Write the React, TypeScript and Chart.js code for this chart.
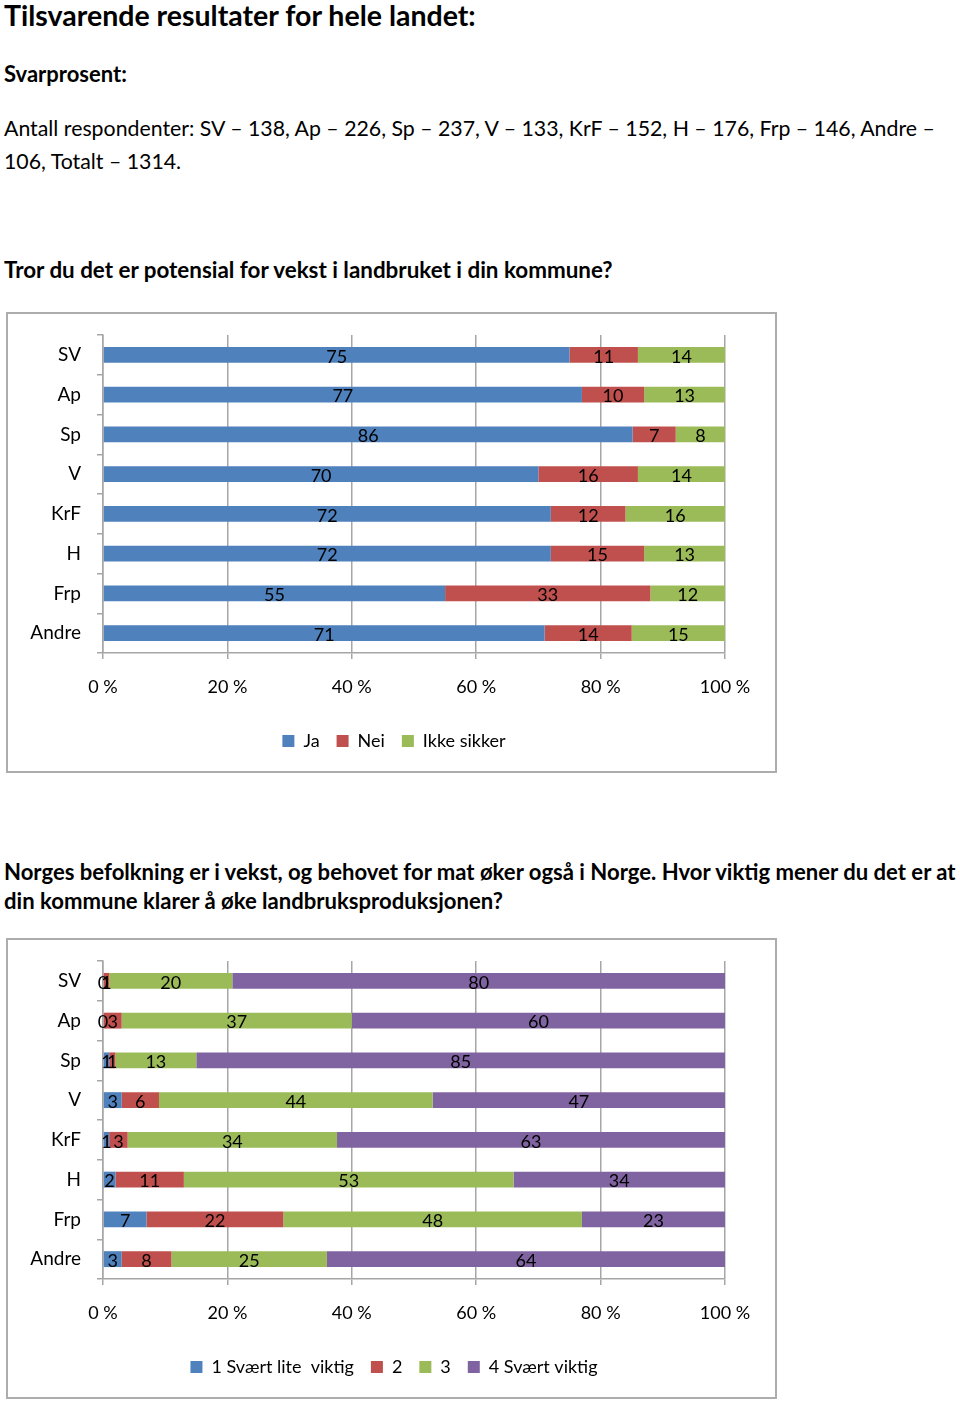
import React, { useEffect, useRef } from "react";
import { Chart, registerables } from "chart.js";

Chart.register(...registerables);

// ---------- data ----------
const parties = ["SV", "Ap", "Sp", "V", "KrF", "H", "Frp", "Andre"];

const q1SeriesNames = ["Ja", "Nei", "Ikke sikker"];
const q1Ja = [75, 77, 86, 70, 72, 72, 55, 71];
const q1Nei = [11, 10, 7, 16, 12, 15, 33, 14];
const q1IkkeSikker = [14, 13, 8, 14, 16, 13, 12, 15];

const q2SeriesNames = ["1 Svært lite  viktig", "2", "3", "4 Svært viktig"];
const q2Lite = [0, 0, 1, 3, 1, 2, 7, 3];
const q2To = [1, 3, 1, 6, 3, 11, 22, 8];
const q2Tre = [20, 37, 13, 44, 34, 53, 48, 25];
const q2Viktig = [80, 60, 85, 47, 63, 34, 23, 64];

const xTickValues = [0, 20, 40, 60, 80, 100];
const seriesColors = ["#4F81BD", "#C0504D", "#9BBB59", "#8064A2"];

const FONT = "Lato, 'Noto Sans', sans-serif";
const GRID = "#A6A6A6";

// draws the value of every segment centred in it
const valueLabels = {
  id: "valueLabels",
  afterDatasetsDraw(chart: any) {
    const ctx = chart.ctx;
    ctx.save();
    ctx.font = `18px ${FONT}`;
    ctx.fillStyle = "#000";
    ctx.textAlign = "center";
    ctx.textBaseline = "middle";
    chart.data.datasets.forEach((ds: any, i: number) => {
      const meta = chart.getDatasetMeta(i);
      meta.data.forEach((el: any, j: number) => {
        const p = el.getProps(["x", "base", "y"], true);
        ctx.fillText(String(ds.rawValues[j]), (p.x + p.base) / 2, p.y + 2);
      });
    });
    ctx.restore();
  },
};

// centre the legend a little further right, like the original
const legendShift = {
  id: "legendShift",
  afterLayout(chart: any) {
    if (chart.legend) {
      chart.legend.left += 55;
    }
  },
};

function buildDatasets(names: string[], series: number[][]) {
  const totals = parties.map((_, j) => series.reduce((s, arr) => s + arr[j], 0));
  return series.map((arr, i) => ({
    label: names[i],
    data: arr.map((v, j) => (v / totals[j]) * 100),
    rawValues: arr,
    backgroundColor: seriesColors[i],
    borderWidth: 0,
    barPercentage: 0.4,
    categoryPercentage: 1,
  }));
}

function StackedChart({ names, series }: { names: string[]; series: number[][] }) {
  const ref = useRef<HTMLCanvasElement>(null);
  useEffect(() => {
    if (!ref.current) return;
    const chart = new Chart(ref.current, {
      type: "bar",
      data: { labels: parties, datasets: buildDatasets(names, series) as any },
      options: {
        indexAxis: "y",
        responsive: false,
        animation: false,
        layout: { padding: { top: 21, right: 50, left: 0, bottom: 11 } },
        scales: {
          x: {
            stacked: true,
            min: 0,
            max: 100,
            afterBuildTicks: (s: any) => {
              s.ticks = xTickValues.map((v) => ({ value: v }));
            },
            ticks: {
              callback: (v: any) => `${v} %`,
              font: { size: 18, family: FONT },
              color: "#000",
              padding: 17,
              maxRotation: 0,
            },
            grid: { color: GRID, lineWidth: 1.5, tickLength: 6 },
            border: { color: GRID, width: 1.5 },
            afterFit: (s: any) => {
              s.height = 62;
            },
          },
          y: {
            stacked: true,
            ticks: { font: { size: 19, family: FONT }, color: "#000", padding: 16 },
            grid: { offset: true, drawOnChartArea: false, tickLength: 6, color: GRID, lineWidth: 1.5 },
            border: { color: GRID, width: 1.5 },
            afterFit: (s: any) => {
              s.width = 95;
              s.paddingTop = 0;
              s.paddingBottom = 0;
            },
          },
        },
        plugins: {
          legend: {
            position: "bottom",
            labels: {
              boxWidth: 12,
              boxHeight: 12,
              padding: 17,
              font: { size: 18, family: FONT },
              color: "#000",
            },
          },
          tooltip: { enabled: false },
        },
      },
      plugins: [valueLabels, legendShift],
    });
    return () => chart.destroy();
  }, []);
  return <canvas ref={ref} width={767} height={457} style={{ display: "block" }} />;
}

const textStyle: React.CSSProperties = {
  position: "absolute",
  left: 4,
  margin: 0,
  whiteSpace: "nowrap",
  fontFamily: FONT,
  color: "#000",
};

export default function App() {
  return (
    <div style={{ position: "absolute", left: 0, top: 0, width: 960, height: 1405, background: "#fff" }}>
      <div style={{ ...textStyle, top: -2, fontSize: 28.5, fontWeight: 700, lineHeight: "34px" }}>
        Tilsvarende resultater for hele landet:
      </div>
      <div style={{ ...textStyle, top: 61, fontSize: 22, fontWeight: 700, lineHeight: "26px" }}>Svarprosent:</div>
      <div style={{ ...textStyle, top: 115, fontSize: 21.3, lineHeight: "26px" }}>
        Antall respondenter: SV – 138, Ap – 226, Sp – 237, V – 133, KrF – 152, H – 176, Frp – 146, Andre –
      </div>
      <div style={{ ...textStyle, top: 148, fontSize: 21.3, lineHeight: "26px" }}>106, Totalt – 1314.</div>
      <div style={{ ...textStyle, top: 257, fontSize: 22.4, fontWeight: 700, lineHeight: "26px" }}>
        Tror du det er potensial for vekst i landbruket i din kommune?
      </div>

      <div style={{ position: "absolute", left: 6, top: 312, border: "2px solid #ADADAD" }}>
        <StackedChart names={q1SeriesNames} series={[q1Ja, q1Nei, q1IkkeSikker]} />
      </div>

      <div style={{ ...textStyle, top: 859, fontSize: 22.1, fontWeight: 700, lineHeight: "26px" }}>
        Norges befolkning er i vekst, og behovet for mat øker også i Norge. Hvor viktig mener du det er at
      </div>
      <div style={{ ...textStyle, top: 888, fontSize: 22.1, fontWeight: 700, lineHeight: "26px" }}>
        din kommune klarer å øke landbruksproduksjonen?
      </div>

      <div style={{ position: "absolute", left: 6, top: 938, border: "2px solid #ADADAD" }}>
        <StackedChart names={q2SeriesNames} series={[q2Lite, q2To, q2Tre, q2Viktig]} />
      </div>
    </div>
  );
}
